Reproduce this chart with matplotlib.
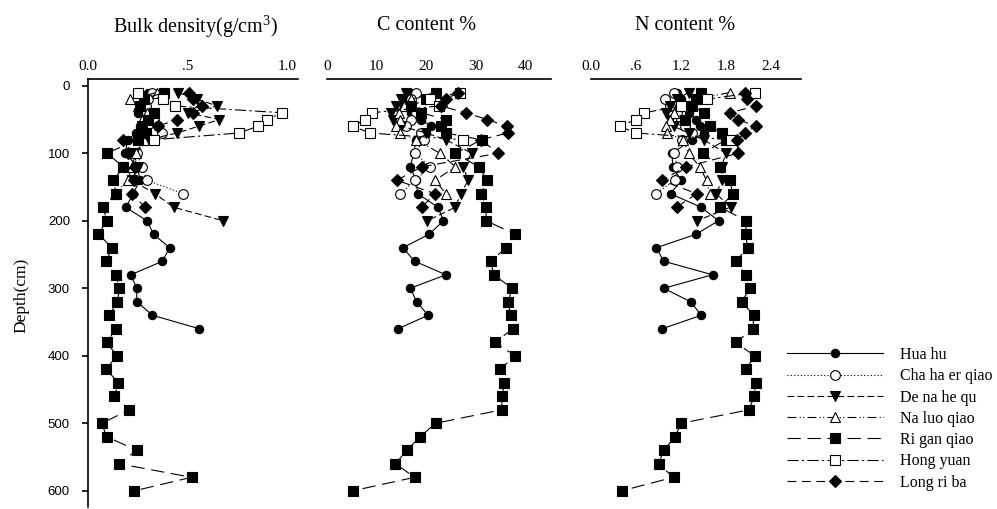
import matplotlib
matplotlib.use("Agg")
import matplotlib.pyplot as plt

plt.rcParams['font.family'] = ['Liberation Serif', 'DejaVu Serif']
plt.rcParams['mathtext.fontset'] = 'custom'
plt.rcParams['mathtext.rm'] = 'Liberation Serif'

# sites in legend order
sites = ['Hua hu', 'Cha ha er qiao', 'De na he qu', 'Na luo qiao',
         'Ri gan qiao', 'Hong yuan', 'Long ri ba']

# sampling depths (cm)
depth_hua = [10, 20, 30, 40, 50, 60, 70, 80, 100, 120, 140, 160, 180, 200,
             220, 240, 260, 280, 300, 320, 340, 360]
depth_cha = [10, 20, 30, 40, 50, 60, 70, 80, 100, 120, 140, 160]
depth_dena = [10, 20, 30, 40, 50, 60, 70, 80, 100, 120, 140, 160, 180, 200]
depth_naluo = [10, 20, 30, 40, 50, 60, 70, 80, 100, 120, 140, 160]
depth_rigan = [10, 20, 30, 40, 50, 60, 70, 80, 100, 120, 140, 160, 180, 200,
               220, 240, 260, 280, 300, 320, 340, 360, 380, 400, 420, 440,
               460, 480, 500, 520, 540, 560, 580, 600]
depth_hong = [10, 20, 30, 40, 50, 60, 70, 80]
depth_long = [10, 20, 30, 40, 50, 60, 70, 80, 100, 120, 140, 160, 180]

# bulk density g/cm3
bd_hua = [0.30, 0.28, 0.27, 0.25, 0.30, 0.26, 0.24, 0.20, 0.186, 0.25, 0.26,
          0.227, 0.19, 0.296, 0.33, 0.41, 0.374, 0.215, 0.245, 0.245, 0.324, 0.56]
bd_cha = [0.32, 0.30, 0.29, 0.31, 0.33, 0.35, 0.374, 0.30, 0.245, 0.27, 0.296, 0.477]
bd_dena = [0.45, 0.55, 0.65, 0.50, 0.66, 0.556, 0.447, 0.30, 0.23, 0.25, 0.22,
           0.338, 0.43, 0.68]
bd_naluo = [0.346, 0.21, 0.25, 0.296, 0.27, 0.26, 0.30, 0.28, 0.24, 0.22, 0.20, 0.136]
bd_rigan = [0.38, 0.28, 0.26, 0.33, 0.30, 0.27, 0.29, 0.25, 0.094, 0.178, 0.128,
            0.14, 0.077, 0.094, 0.052, 0.122, 0.091, 0.14, 0.158, 0.148, 0.107,
            0.14, 0.094, 0.145, 0.091, 0.153, 0.133, 0.208, 0.069, 0.094, 0.245,
            0.156, 0.52, 0.233]
bd_hong = [0.25, 0.376, 0.435, 0.976, 0.90, 0.855, 0.757, 0.33]
bd_long = [0.505, 0.53, 0.573, 0.53, 0.447, 0.35, 0.25, 0.178, 0.20, 0.237,
           0.23, 0.22, 0.287]

# C content %
c_hua = [17, 16, 15.5, 17, 19, 21, 20, 18, 17.5, 16.8, 18, 18.3, 22.4, 23.5,
         20.6, 15.3, 17.7, 24.0, 16.8, 18.1, 20.4, 14.3]
c_cha = [18, 17, 16.5, 18, 17, 16, 19, 19.5, 17.8, 20.8, 17.8, 14.8]
c_dena = [16, 15, 14, 13, 13.4, 15, 20, 24, 29.2, 27.5, 28.5, 27, 25.9, 20.2]
c_naluo = [21.8, 17, 15.5, 14.5, 14.8, 14, 14.8, 18, 22.8, 25.9, 21.8, 24.0]
c_rigan = [22, 20, 17, 19, 24, 23, 24, 31.2, 25.9, 30.6, 32.3, 31.1, 32.1, 32.1,
           38.0, 36.1, 33.1, 33.6, 37.4, 36.5, 37.1, 37.6, 33.8, 38.0, 34.9,
           35.8, 35.3, 35.3, 21.9, 18.8, 16.1, 13.8, 17.7, 5.2]
c_hong = [26.9, 20.8, 22.5, 9.1, 7.7, 5.2, 8.7, 27.5]
c_long = [26.5, 24, 23, 28, 32.3, 36.3, 36.5, 31, 34.6, 19.1, 14.1, 21.8, 19.1]

# N content %
n_hua = [1.15, 1.2, 1.25, 1.3, 1.4, 1.45, 1.5, 1.35, 1.08, 1.09, 1.2, 1.06, 1.47,
         1.70, 1.40, 0.87, 0.97, 1.62, 0.97, 1.33, 1.47, 0.95]
n_cha = [1.1, 0.98, 1.05, 1.15, 1.2, 1.25, 1.34, 1.21, 1.11, 1.15, 1.12, 0.86]
n_dena = [1.3, 1.15, 1.05, 1.0, 1.05, 1.1, 1.3, 1.5, 1.8, 1.74, 1.75, 1.67, 1.86, 1.41]
n_naluo = [1.85, 1.4, 1.2, 1.1, 1.05, 1.0, 1.01, 1.23, 1.3, 1.45, 1.54, 1.58]
n_rigan = [1.47, 1.4, 1.35, 1.5, 1.25, 1.58, 1.75, 1.8, 1.49, 1.72, 1.85, 1.89,
           1.72, 2.07, 2.06, 2.09, 1.93, 2.06, 2.12, 2.01, 2.17, 2.16, 1.93,
           2.18, 2.07, 2.20, 2.17, 2.11, 1.20, 1.12, 0.97, 0.90, 1.10, 0.41]
n_hong = [2.18, 1.55, 1.2, 0.71, 0.60, 0.38, 0.60, 1.86]
n_long = [2.05, 2.08, 2.2, 1.85, 1.96, 2.2, 2.05, 1.95, 1.96, 1.27, 0.94, 1.41, 1.14]

depths = [depth_hua, depth_cha, depth_dena, depth_naluo, depth_rigan, depth_hong, depth_long]
bd_all = [bd_hua, bd_cha, bd_dena, bd_naluo, bd_rigan, bd_hong, bd_long]
c_all = [c_hua, c_cha, c_dena, c_naluo, c_rigan, c_hong, c_long]
n_all = [n_hua, n_cha, n_dena, n_naluo, n_rigan, n_hong, n_long]

# line / marker style for each site
styles = [
    dict(ls='-', marker='o', mfc='black', ms=6),
    dict(ls=(0, (1, 2)), marker='o', mfc='white', ms=7),
    dict(ls=(0, (6, 3)), marker='v', mfc='black', ms=7.5),
    dict(ls=(0, (8, 3, 1, 2, 1, 3)), marker='^', mfc='white', ms=7.5),
    dict(ls=(0, (12, 6)), marker='s', mfc='black', ms=7),
    dict(ls=(0, (10, 3, 2, 3)), marker='s', mfc='white', ms=7),
    dict(ls=(0, (8, 5)), marker='D', mfc='black', ms=6.5),
]

W, H = 997, 509
fig = plt.figure(figsize=(W / 100, H / 100), dpi=100)


def make_axes(x0, x1):
    return fig.add_axes([x0 / W, 1 - 507 / H, (x1 - x0) / W, (507 - 79) / H])


ax1 = make_axes(88, 298)
ax2 = make_axes(327, 551)
ax3 = make_axes(591, 801)

panels = [(ax1, bd_all, (0, 1.055), [0, 0.5, 1.0], ['0.0', '.5', '1.0']),
          (ax2, c_all, (0, 45.2), [0, 10, 20, 30, 40], ['0', '10', '20', '30', '40']),
          (ax3, n_all, (0, 2.8), [0, 0.6, 1.2, 1.8, 2.4], ['0.0', '.6', '1.2', '1.8', '2.4'])]

for ax, vals, xl, xt, xtl in panels:
    for i in range(len(sites)):
        st = styles[i]
        ax.plot(vals[i], depths[i], color='black', lw=0.8, linestyle=st['ls'],
                marker=st['marker'], mfc=st['mfc'], mec='black', mew=0.8,
                ms=st['ms'], label=sites[i])
    ax.set_xlim(*xl)
    ax.set_ylim(624, -10)
    ax.xaxis.tick_top()
    ax.set_xticks(xt)
    ax.set_xticklabels(xtl)
    ax.tick_params(axis='x', length=0, pad=4, labelsize=11)
    ax.spines['top'].set_linewidth(1.2)
    ax.spines['right'].set_visible(False)
    ax.spines['bottom'].set_visible(False)
    ax.patch.set_alpha(0)

ax1.spines['left'].set_linewidth(1.2)
ax1.set_yticks([0, 100, 200, 300, 400, 500, 600])
ax1.tick_params(axis='y', direction='out', length=4, width=1.2, pad=9)
for lab in ax1.get_yticklabels():
    lab.set_family('Liberation Sans')
    lab.set_fontsize(9.5)

for ax in (ax2, ax3):
    ax.spines['left'].set_visible(False)
    ax.set_yticks([])

fig.text(195 / W, 1 - 27 / H, 'Bulk density(g/cm$^3$)', ha='center', va='center', fontsize=14.5)
fig.text(427 / W, 1 - 25 / H, 'C content %', ha='center', va='center', fontsize=14.5)
fig.text(685 / W, 1 - 25 / H, 'N content %', ha='center', va='center', fontsize=14.5)
fig.text(21 / W, 1 - 295 / H, 'Depth(cm)', rotation=90, ha='center', va='center', fontsize=12.5)

handles, labels = ax1.get_legend_handles_labels()
fig.legend(handles, labels, loc='upper left', bbox_to_anchor=(787 / W, 1 - 347 / H),
           frameon=False, handlelength=6.0, handletextpad=1.1, labelspacing=0.33,
           borderpad=0, borderaxespad=0, fontsize=11.5)

fig.savefig('out.png', dpi=100)
